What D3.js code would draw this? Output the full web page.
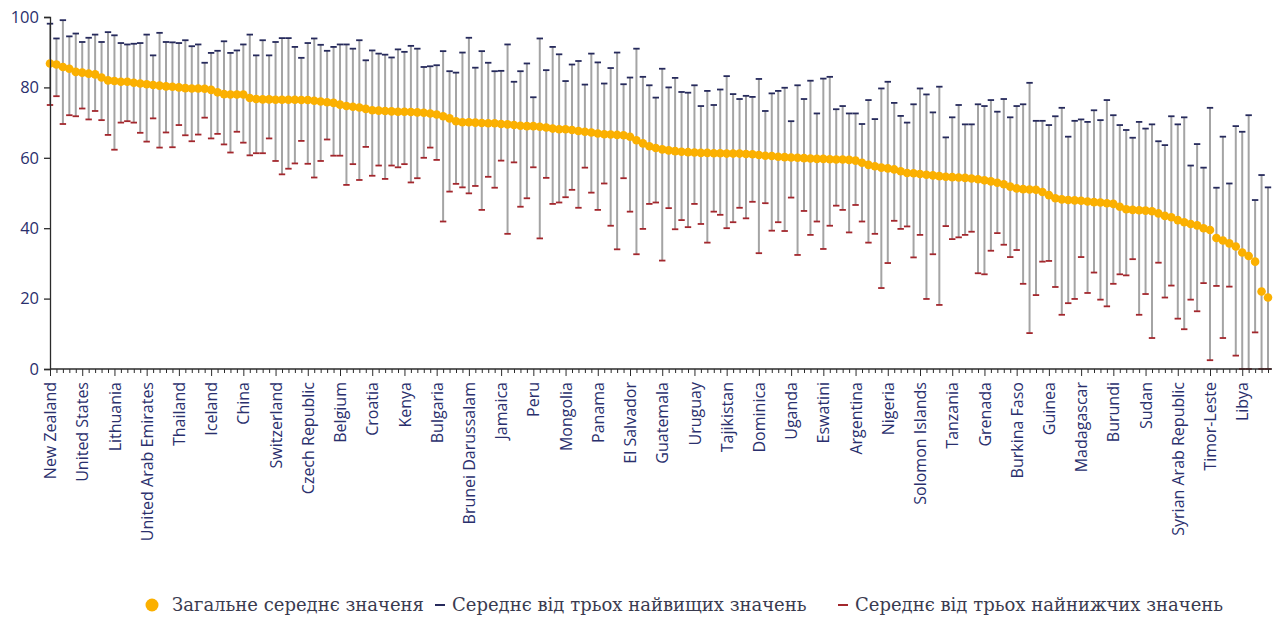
<!DOCTYPE html>
<html>
<head>
<meta charset="utf-8">
<script src="https://cdn.jsdelivr.net/npm/d3@7"></script>
<style>
  body { margin: 0; background: #ffffff; }
  svg { display: block; }
</style>
</head>
<body>
<svg id="chart" width="1278" height="619"></svg>
<script>
// Country labels shown on the x axis (every fifth country in the ranking)
const tickLabels = [
  "New Zealand", "United States", "Lithuania", "United Arab Emirates", "Thailand",
  "Iceland", "China", "Switzerland", "Czech Republic", "Belgium",
  "Croatia", "Kenya", "Bulgaria", "Brunei Darussalam", "Jamaica",
  "Peru", "Mongolia", "Panama", "El Salvador", "Guatemala",
  "Uruguay", "Tajikistan", "Dominica", "Uganda", "Eswatini",
  "Argentina", "Nigeria", "Solomon Islands", "Tanzania", "Grenada",
  "Burkina Faso", "Guinea", "Madagascar", "Burundi", "Sudan",
  "Syrian Arab Republic", "Timor-Leste", "Libya"
];
const labelStep = 5;

// Overall mean per country, ranked from highest to lowest
const overallMean = [
  86.8, 86.5, 85.8, 85.3, 84.4, 84.2, 83.9, 83.7, 82.8, 82.0,
  81.8, 81.6, 81.6, 81.3, 81.1, 80.9, 80.7, 80.5, 80.3, 80.2,
  80.0, 79.8, 79.7, 79.7, 79.6, 79.3, 78.6, 78.1, 78.0, 78.0,
  78.0, 77.0, 76.7, 76.6, 76.6, 76.5, 76.5, 76.5, 76.5, 76.4,
  76.4, 76.2, 76.0, 75.8, 75.6, 75.1, 74.7, 74.5, 74.3, 73.9,
  73.5, 73.4, 73.3, 73.2, 73.1, 73.1, 73.0, 72.9, 72.8, 72.6,
  72.3, 71.8, 71.2, 70.4, 70.1, 70.1, 70.0, 69.9, 69.8, 69.8,
  69.6, 69.5, 69.3, 69.1, 69.0, 69.0, 68.8, 68.6, 68.3, 68.1,
  68.1, 67.9, 67.6, 67.4, 67.2, 66.9, 66.7, 66.6, 66.5, 66.4,
  66.0, 65.0, 64.1, 63.3, 62.8, 62.4, 62.1, 61.9, 61.7, 61.6,
  61.5, 61.4, 61.4, 61.3, 61.3, 61.2, 61.2, 61.2, 61.1, 61.0,
  60.8, 60.6, 60.5, 60.3, 60.2, 60.1, 60.0, 59.9, 59.8, 59.7,
  59.7, 59.6, 59.5, 59.5, 59.4, 59.2, 58.6, 58.0, 57.6, 57.2,
  57.0, 56.7, 56.2, 55.7, 55.6, 55.4, 55.2, 55.0, 54.8, 54.6,
  54.5, 54.4, 54.3, 54.1, 53.9, 53.6, 53.3, 52.9, 52.5, 51.8,
  51.3, 51.1, 51.0, 50.9, 50.3, 49.4, 48.5, 48.2, 48.0, 47.9,
  47.8, 47.6, 47.4, 47.3, 47.1, 46.9, 46.1, 45.4, 45.2, 45.1,
  45.0, 44.8, 44.2, 43.5, 43.1, 42.3, 41.7, 41.2, 40.8, 40.0,
  39.5, 37.2, 36.5, 35.7, 34.8, 33.1, 32.1, 30.5, 22.0, 20.3
];

// Mean of the three highest values per country
const topThreeMean = [
  98.1, 93.9, 99.1, 94.5, 95.3, 92.9, 94.1, 95.0, 92.9, 95.7,
  94.8, 92.6, 92.2, 92.4, 92.6, 95.0, 89.1, 95.5, 92.9, 92.8,
  92.6, 93.4, 91.7, 92.2, 87.0, 89.8, 90.4, 93.1, 89.8, 90.5,
  92.2, 95.0, 89.1, 93.4, 89.1, 92.9, 94.0, 94.0, 91.5, 88.4,
  92.6, 93.9, 92.1, 90.4, 91.5, 92.2, 92.2, 91.0, 93.4, 87.7,
  90.5, 89.6, 89.3, 88.5, 90.8, 90.1, 91.8, 91.0, 85.8, 86.0,
  86.3, 90.3, 84.6, 84.2, 89.9, 94.1, 85.6, 90.3, 87.0, 84.6,
  84.7, 92.2, 81.6, 84.6, 86.8, 77.2, 93.9, 84.9, 91.5, 89.4,
  81.8, 86.5, 87.5, 80.8, 89.6, 87.1, 81.1, 85.5, 89.9, 80.9,
  82.8, 91.0, 83.0, 80.6, 77.1, 85.3, 80.0, 82.7, 78.7, 78.5,
  80.6, 74.7, 79.0, 75.0, 79.4, 83.2, 78.1, 76.7, 77.6, 77.3,
  82.4, 73.3, 78.3, 79.0, 79.9, 70.4, 80.6, 76.7, 81.9, 72.6,
  82.5, 83.0, 73.8, 74.7, 72.6, 72.6, 69.6, 76.4, 71.0, 79.7,
  81.6, 75.6, 71.9, 70.0, 75.2, 79.7, 78.0, 72.9, 80.2, 65.8,
  71.5, 75.0, 69.5, 69.5, 75.2, 74.7, 76.4, 73.1, 76.7, 71.5,
  74.7, 75.2, 81.3, 70.5, 70.5, 69.3, 71.8, 74.2, 66.0, 70.5,
  70.9, 70.2, 73.5, 70.7, 76.4, 72.1, 69.3, 67.9, 65.7, 70.2,
  68.3, 69.5, 64.7, 63.6, 71.8, 69.5, 71.5, 57.8, 63.9, 57.2,
  74.2, 51.5, 66.0, 52.7, 69.0, 67.4, 72.1, 48.0, 55.1, 51.6
];

// Mean of the three lowest values per country
const bottomThreeMean = [
  75.0, 77.5, 69.6, 72.1, 71.8, 74.0, 70.9, 73.3, 70.7, 66.5,
  62.3, 70.0, 70.4, 70.0, 67.1, 64.6, 71.2, 62.9, 67.2, 63.0,
  69.3, 66.4, 64.7, 66.6, 71.4, 65.5, 66.8, 63.8, 61.5, 67.4,
  64.3, 60.7, 61.3, 61.3, 65.5, 59.1, 55.3, 56.9, 58.4, 64.8,
  58.3, 54.4, 59.1, 65.2, 60.6, 60.6, 52.3, 58.2, 53.7, 63.1,
  54.9, 57.8, 54.0, 57.8, 57.3, 58.2, 53.0, 54.2, 60.0, 62.9,
  59.4, 41.9, 50.4, 52.6, 51.6, 49.9, 52.0, 45.2, 54.6, 51.5,
  59.2, 38.4, 58.7, 46.1, 48.5, 57.3, 37.1, 54.3, 46.9, 47.3,
  48.8, 50.9, 45.8, 57.2, 50.1, 45.2, 52.7, 40.7, 34.0, 54.2,
  44.7, 32.6, 39.8, 46.9, 47.3, 30.8, 45.7, 39.7, 42.3, 40.3,
  46.9, 41.2, 35.9, 44.7, 43.8, 40.0, 41.7, 45.8, 42.8, 47.5,
  32.9, 47.1, 39.3, 41.7, 39.2, 48.7, 32.4, 44.9, 38.1, 41.9,
  34.1, 40.7, 46.4, 45.2, 38.8, 46.6, 41.9, 35.9, 38.4, 23.0,
  30.1, 42.1, 39.8, 40.5, 31.7, 38.1, 19.9, 32.6, 18.2, 40.6,
  36.9, 37.4, 38.1, 39.0, 27.2, 26.9, 33.6, 38.6, 35.3, 31.8,
  33.8, 24.2, 10.2, 21.0, 30.5, 30.7, 23.3, 15.4, 18.7, 19.9,
  31.8, 21.6, 27.4, 19.7, 17.8, 24.2, 26.9, 26.6, 31.2, 15.4,
  21.3, 8.8, 30.2, 20.3, 23.7, 14.3, 11.3, 19.7, 16.4, 24.4,
  2.5, 23.6, 8.8, 23.4, 3.8, 0.0, 0.0, 10.4, 0.0, 0.0
];

const yTicks = [0, 20, 40, 60, 80, 100];
const legendLabels = [
  "Загальне середнє значеня",
  "Середнє від трьох найвищих значень",
  "Середнє від трьох найнижчих значень"
];

const colors = {
  mean: "#fbb000",
  top: "#262a5c",
  bottom: "#a3272d",
  whisker: "#a4a4a4",
  axis: "#2b2b2b",
  label: "#2a2f6d",
  legendText: "#3a3b4f"
};

const svg = d3.select("#chart");
const idx = d3.range(overallMean.length);

const x = d3.scalePoint().domain(idx).range([50, 1268]);
const y = d3.scaleLinear().domain([0, 100]).range([369, 17]);

// Whiskers: from the low three-value mean to the high three-value mean
const g = svg.append("g");
g.selectAll("line.whisker")
  .data(idx)
  .join("line")
  .attr("class", "whisker")
  .attr("x1", d => x(d)).attr("x2", d => x(d))
  .attr("y1", d => y(bottomThreeMean[d]))
  .attr("y2", d => y(topThreeMean[d]))
  .attr("stroke", colors.whisker)
  .attr("stroke-width", 2);

const capHalf = 3.2;
g.selectAll("line.cap-top")
  .data(idx)
  .join("line")
  .attr("class", "cap-top")
  .attr("x1", d => x(d) - capHalf).attr("x2", d => x(d) + capHalf)
  .attr("y1", d => y(topThreeMean[d])).attr("y2", d => y(topThreeMean[d]))
  .attr("stroke", colors.top)
  .attr("stroke-width", 1.8);

g.selectAll("line.cap-bottom")
  .data(idx)
  .join("line")
  .attr("class", "cap-bottom")
  .attr("x1", d => x(d) - capHalf).attr("x2", d => x(d) + capHalf)
  .attr("y1", d => y(bottomThreeMean[d])).attr("y2", d => y(bottomThreeMean[d]))
  .attr("stroke", colors.bottom)
  .attr("stroke-width", 1.8);

// Y axis
const yAxis = svg.append("g")
  .attr("transform", "translate(50,0)")
  .call(d3.axisLeft(y).tickValues(yTicks).tickSize(6).tickPadding(5));
yAxis.select(".domain").attr("stroke", colors.axis).attr("stroke-width", 1.3);
yAxis.selectAll(".tick line").attr("stroke", colors.axis).attr("stroke-width", 1.3);
yAxis.selectAll(".tick text")
  .attr("fill", colors.label)
  .style("font-family", "'Open Sans', sans-serif")
  .style("font-size", "16.5px");

// X axis: a tick per country, longer ticks with labels every fifth country
const xAxis = svg.append("g")
  .attr("transform", "translate(0,369)")
  .call(d3.axisBottom(x)
    .tickValues(idx)
    .tickSize(4)
    .tickSizeOuter(0)
    .tickFormat(d => d % labelStep === 0 ? tickLabels[d / labelStep] : ""));
xAxis.select(".domain")
  .attr("d", `M${x(0)},0H1272`)
  .attr("stroke", colors.axis).attr("stroke-width", 1.3);
xAxis.selectAll(".tick line")
  .attr("stroke", colors.axis).attr("stroke-width", 1)
  .attr("y2", d => d % labelStep === 0 ? 7 : 4);
xAxis.selectAll(".tick text")
  .attr("transform", "rotate(-90)")
  .attr("x", -13).attr("y", 0).attr("dy", "0.35em")
  .style("text-anchor", "end")
  .attr("fill", colors.label)
  .style("font-family", "'Open Sans', sans-serif")
  .style("font-size", "16px");

// Overall mean points on top of the whiskers
g.append("g").selectAll("circle")
  .data(idx)
  .join("circle")
  .attr("cx", d => x(d))
  .attr("cy", d => y(overallMean[d]))
  .attr("r", 4.3)
  .attr("fill", colors.mean);

// Legend
const legend = svg.append("g").attr("transform", "translate(0,605)");
const legendFont = "'DejaVu Serif', serif";
legend.append("circle").attr("cx", 152).attr("cy", 0).attr("r", 6.5).attr("fill", colors.mean);
legend.append("line").attr("x1", 435).attr("x2", 445).attr("y1", 0).attr("y2", 0)
  .attr("stroke", colors.top).attr("stroke-width", 2);
legend.append("line").attr("x1", 838).attr("x2", 848).attr("y1", 0).attr("y2", 0)
  .attr("stroke", colors.bottom).attr("stroke-width", 2);
const legendX = [172, 452, 855];
legend.selectAll("text")
  .data(legendLabels)
  .join("text")
  .attr("x", (d, i) => legendX[i])
  .attr("y", 0)
  .attr("dy", "0.35em")
  .attr("fill", colors.legendText)
  .style("font-family", legendFont)
  .style("font-size", "18px")
  .text(d => d);
</script>
</body>
</html>
